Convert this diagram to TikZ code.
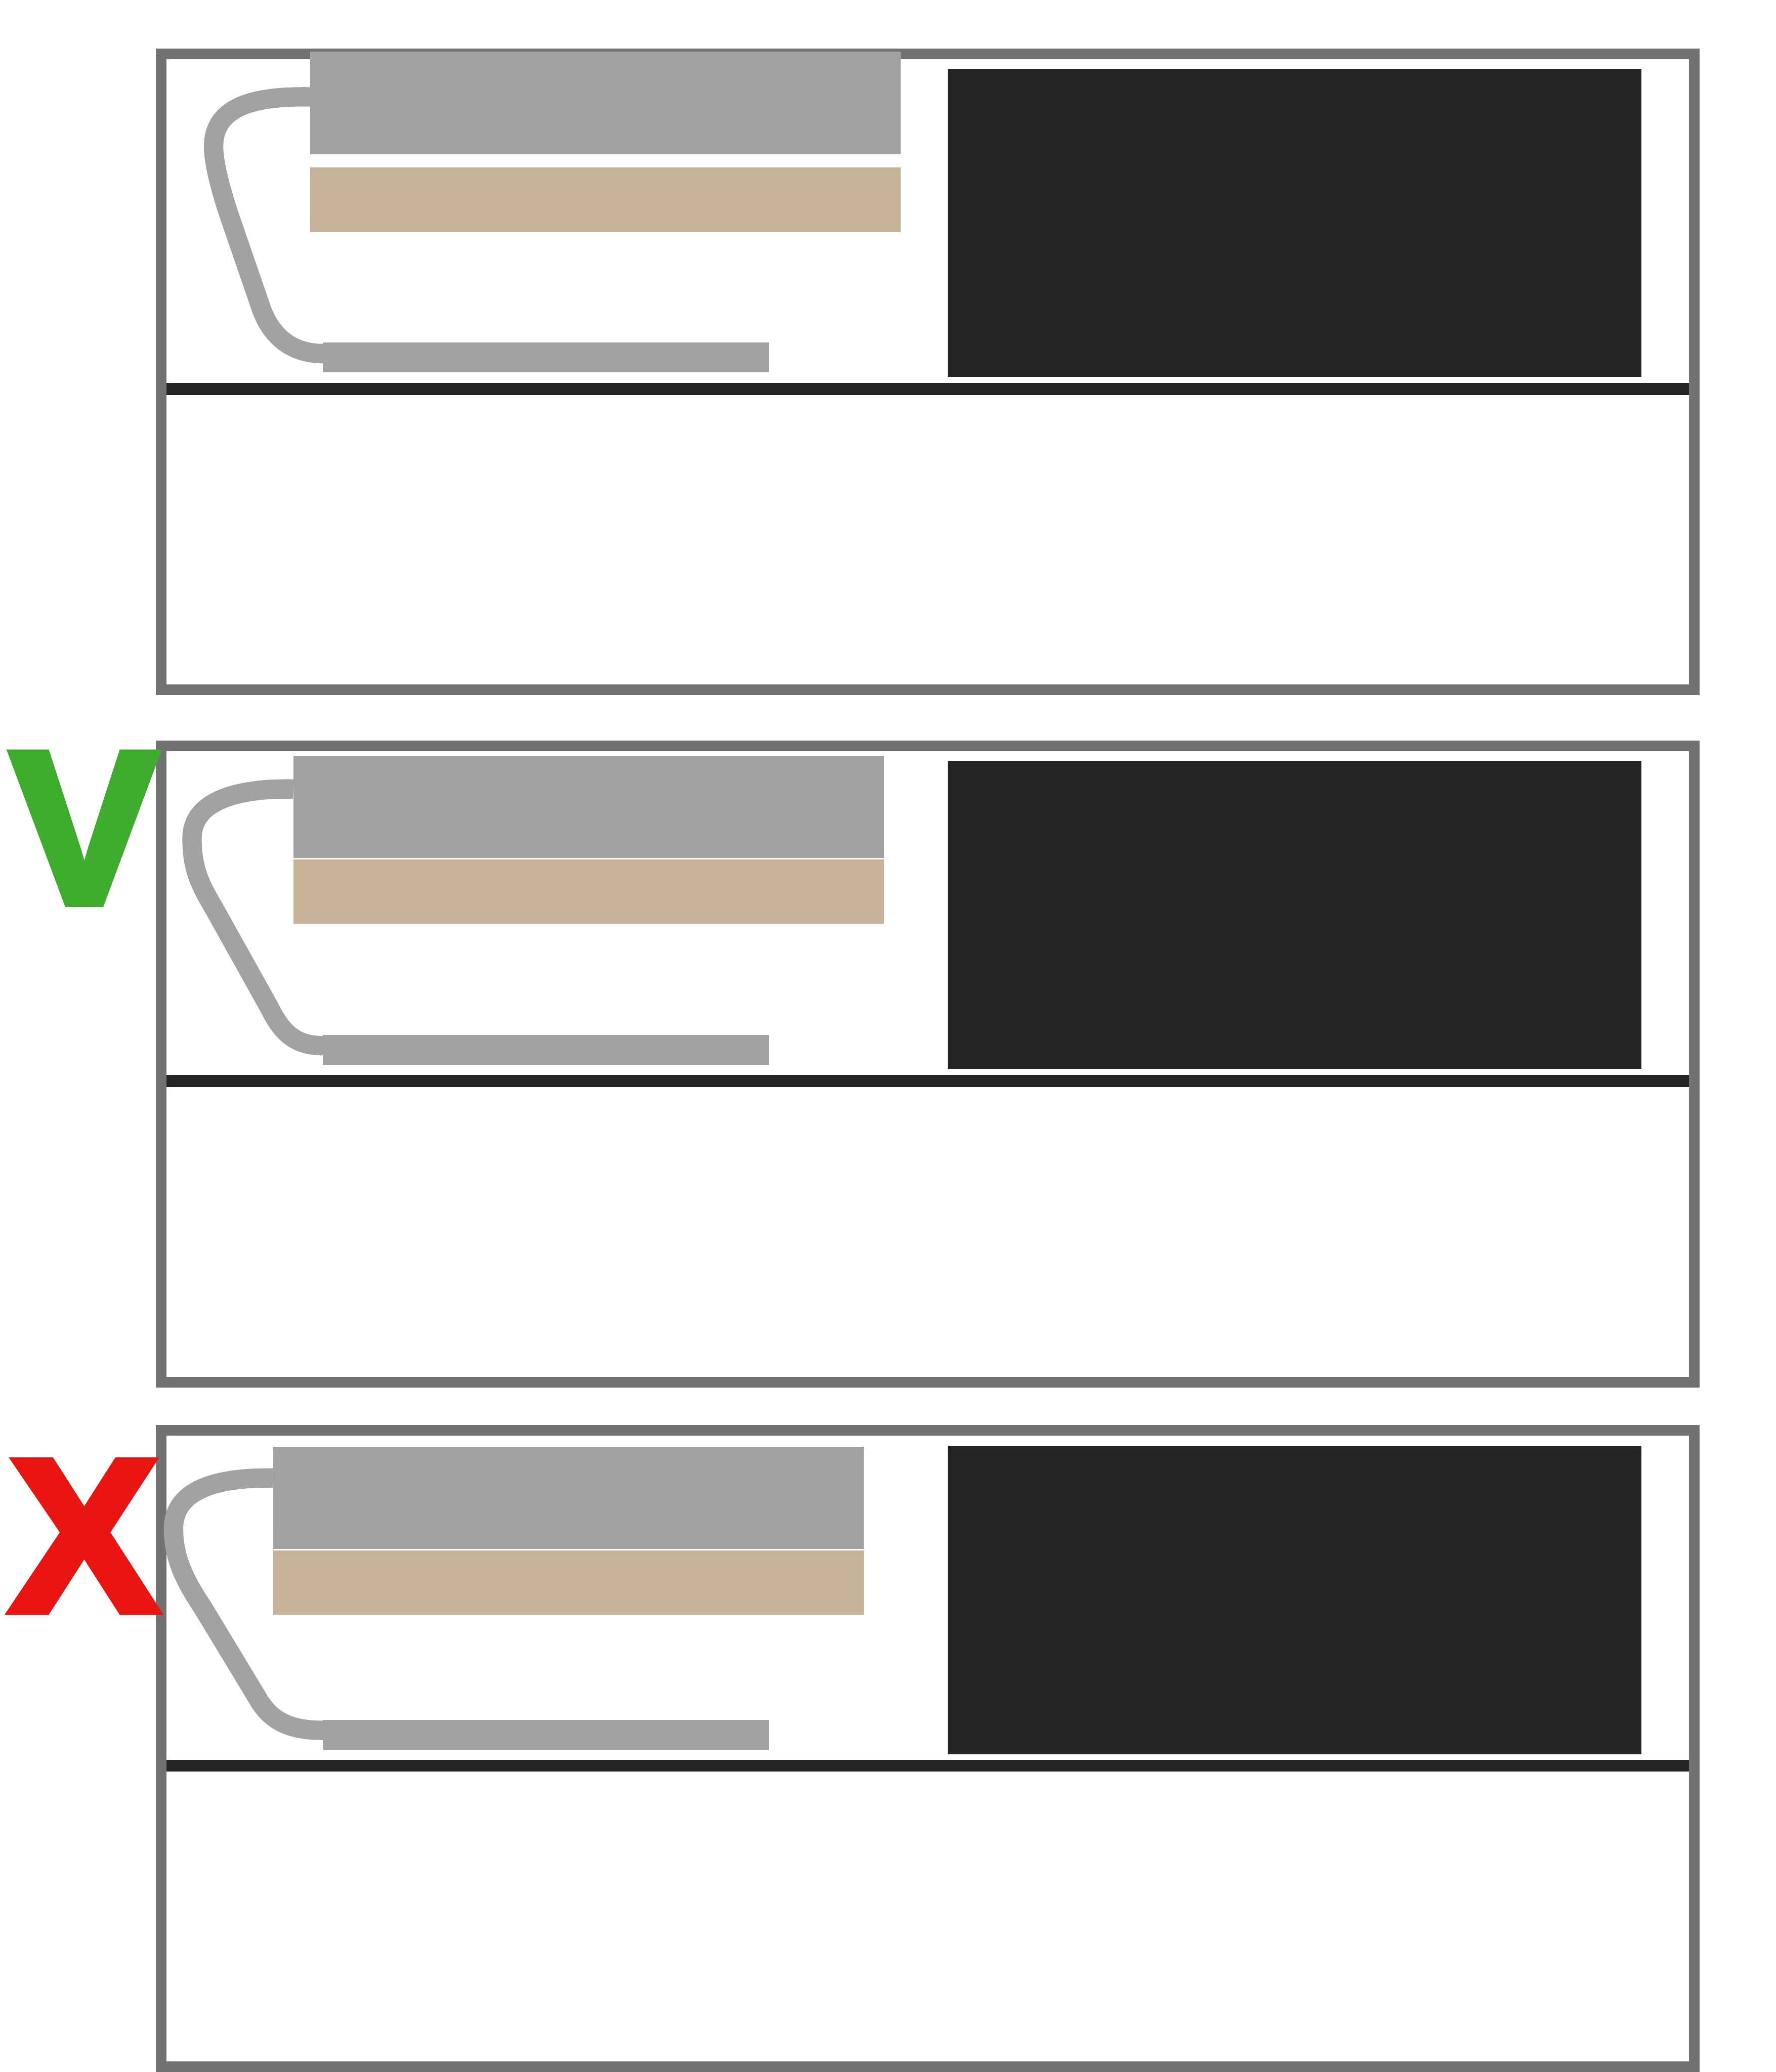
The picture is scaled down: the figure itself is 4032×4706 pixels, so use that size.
\documentclass[tikz,border=0pt]{standalone}
\usepackage{fontspec}
\newfontfamily\markfont{Liberation Sans Bold}[FakeBold=4]
\definecolor{framegray}{HTML}{727272}
\definecolor{cablegray}{HTML}{A2A2A2}
\definecolor{tanfill}{HTML}{C8B199}
\definecolor{darkfill}{HTML}{252525}
\definecolor{okgreen}{HTML}{3EAC2C}
\definecolor{badred}{HTML}{E81513}
\tikzset{
  panelframe/.style={draw=framegray, line width=2.4mm},
  cable/.style={draw=cablegray, line width=4.4mm},
  graybox/.style={fill=cablegray},
  tanbox/.style={fill=tanfill},
  darkbox/.style={fill=darkfill},
  markstyle/.style={inner sep=0pt, outer sep=0pt, anchor=base,
    font={\markfont\fontsize{139.8pt}{150pt}\selectfont}}
}
\begin{document}
\begin{tikzpicture}[x=0.1mm, y=-0.1mm]
\useasboundingbox (0,0) rectangle (4032,4706);
\fill[white] (0,0) rectangle (4032,4706);

% ---------- Panel 1 ----------
\fill[darkbox] (366,870) rectangle (3847,897);
\draw[panelframe] (366,122) rectangle (3847,1567);
\coordinate (c1s) at (704,220);
\coordinate (c1e) at (733,803);
\draw[cable] (c1s) .. controls (580,218) and (485,240) .. (485,333)
  .. controls (485,380) and (511,463) .. (527,508)
  -- (593,700)
  .. controls (613,756) and (655,803) .. (c1e);
\fill[graybox] (704,117) rectangle (2045,350);
\fill[tanbox] (704,380) rectangle (2045,527);
\fill[graybox] (733,778) rectangle (1746,846);
\fill[darkbox] (2152,156) rectangle (3727,856);

% ---------- Panel 2 ----------
\fill[darkbox] (366,2442) rectangle (3847,2469);
\draw[panelframe] (366,1694) rectangle (3847,3139);
\coordinate (c2s) at (666,1792);
\coordinate (c2e) at (733,2375);
\draw[cable] (c2s) .. controls (560,1790) and (436,1810) .. (436,1904)
  .. controls (436,1975) and (455,2010) .. (486,2063)
  -- (612,2289)
  .. controls (640,2345) and (670,2375) .. (c2e);
\fill[graybox] (666,1717) rectangle (2007,1949);
\fill[tanbox] (666,1952) rectangle (2007,2098);
\fill[graybox] (733,2351) rectangle (1746,2419);
\fill[darkbox] (2152,1728) rectangle (3727,2428);

% ---------- Panel 3 ----------
\fill[darkbox] (366,3997) rectangle (3847,4024);
\draw[panelframe] (366,3249) rectangle (3847,4694);
\coordinate (c3s) at (620,3357);
\coordinate (c3e) at (733,3930);
\draw[cable] (c3s) .. controls (500,3355) and (394,3380) .. (394,3472)
  .. controls (394,3540) and (420,3590) .. (461,3652)
  -- (585,3857)
  .. controls (615,3910) and (660,3930) .. (c3e);
\fill[graybox] (620,3286) rectangle (1961,3518);
\fill[tanbox] (620,3521) rectangle (1961,3667);
\fill[graybox] (733,3906) rectangle (1746,3974);
\fill[darkbox] (2152,3284) rectangle (3727,3984);

% ---------- Marks ----------
\node[markstyle, text=okgreen] (vmark) at (191,2050) {\scalebox{1.01}[1]{V}};
\node[markstyle, text=badred] (xmark) at (191,3658) {\scalebox{1.017}[1]{X}};
\end{tikzpicture}
\end{document}
